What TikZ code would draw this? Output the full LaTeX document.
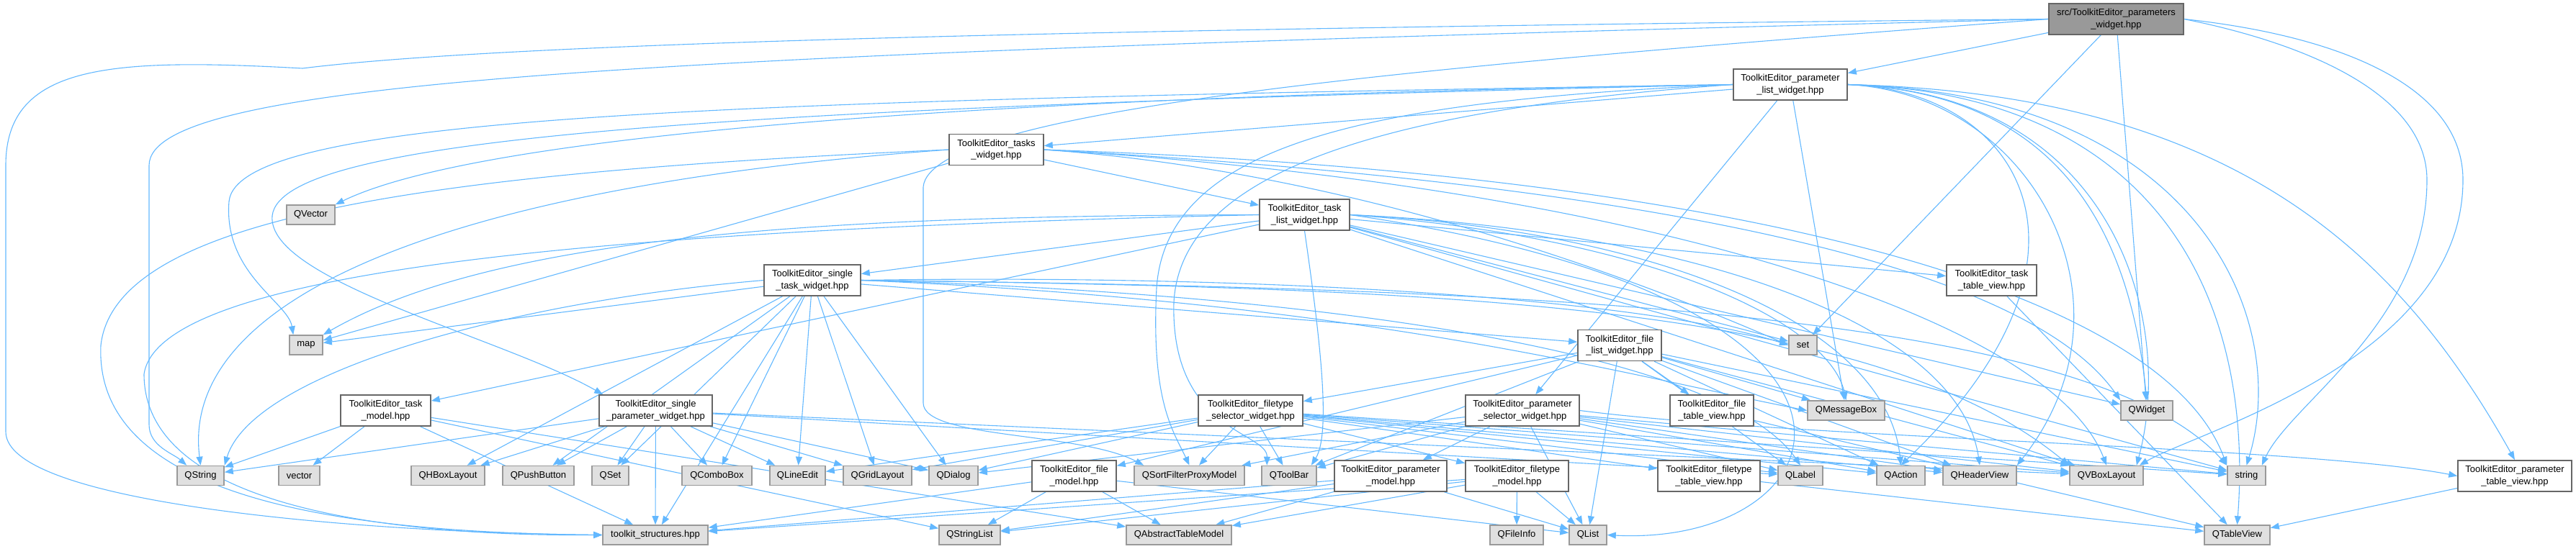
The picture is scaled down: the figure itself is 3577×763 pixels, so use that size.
\documentclass[tikz,border=0pt]{standalone}
\usepackage{fontspec}
\setmainfont{Liberation Sans}
\usetikzlibrary{arrows.meta}
\definecolor{edgec}{HTML}{63B8FF}
\definecolor{wborder}{HTML}{666666}
\definecolor{gborder}{HTML}{999999}
\definecolor{gfill}{HTML}{E0E0E0}
\definecolor{sfill}{HTML}{999999}
\pgfdeclarelayer{edgelayer}
\pgfsetlayers{edgelayer,main}
\tikzset{
  nodebase/.style={line width=1.6pt, align=center, inner sep=0pt, font=\fontsize{13}{16.5}\selectfont},
  wbox/.style={nodebase, draw=wborder, fill=white, minimum height=43pt},
  gbox/.style={nodebase, draw=gborder, fill=gfill, minimum height=27pt},
  sbox/.style={nodebase, draw=wborder, fill=sfill, minimum height=43pt},
  e/.style={draw=edgec, line width=1.1pt, -{Triangle[length=12pt,width=9pt]}},
}
\begin{document}
\begin{tikzpicture}[x=1pt,y=-1pt]
\useasboundingbox (0,0) rectangle (3577,763);
% ---- nodes ----
\node[sbox, minimum width=187pt] (src) at (2938.5,26.5) {src/ToolkitEditor\_parameters\\\_widget.hpp};
\node[wbox, minimum width=158pt] (plw) at (2486,117.5) {ToolkitEditor\_parameter\\\_list\_widget.hpp};
\node[wbox, minimum width=131pt] (tw) at (1383.5,208) {ToolkitEditor\_tasks\\\_widget.hpp};
\node[gbox, minimum width=67pt] (qvec) at (431.5,298.5) {QVector};
\node[wbox, minimum width=125pt] (tlw) at (1811.5,298.5) {ToolkitEditor\_task\\\_list\_widget.hpp};
\node[wbox, minimum width=134pt] (stw) at (1128,389.5) {ToolkitEditor\_single\\\_task\_widget.hpp};
\node[wbox, minimum width=125pt] (ttv) at (2765.5,389.5) {ToolkitEditor\_task\\\_table\_view.hpp};
\node[gbox, minimum width=46pt] (map) at (425,479.5) {map};
\node[gbox, minimum width=39pt] (set) at (2503.5,479.5) {set};
\node[wbox, minimum width=116pt] (flw) at (2249,480) {ToolkitEditor\_file\\\_list\_widget.hpp};
\node[gbox, minimum width=107pt] (qmsg) at (2563.5,570.5) {QMessageBox};
\node[gbox, minimum width=72pt] (qwidget) at (2981,570.5) {QWidget};
\node[wbox, minimum width=125pt] (tm) at (535.5,570.5) {ToolkitEditor\_task\\\_model.hpp};
\node[wbox, minimum width=157pt] (spw) at (910.5,570.5) {ToolkitEditor\_single\\\_parameter\_widget.hpp};
\node[wbox, minimum width=145pt] (fsw) at (1736.5,570.5) {ToolkitEditor\_filetype\\\_selector\_widget.hpp};
\node[wbox, minimum width=158pt] (psw) at (2114,570.5) {ToolkitEditor\_parameter\\\_selector\_widget.hpp};
\node[wbox, minimum width=116pt] (ftv) at (2377,570.5) {ToolkitEditor\_file\\\_table\_view.hpp};
\node[gbox, minimum width=65pt] (qstring) at (278.5,661) {QString};
\node[gbox, minimum width=57pt] (vector) at (415.5,661) {vector};
\node[gbox, minimum width=102pt] (qhbox) at (622,661) {QHBoxLayout};
\node[gbox, minimum width=99pt] (qpush) at (747.5,661) {QPushButton};
\node[gbox, minimum width=51pt] (qset) at (847.5,661) {QSet};
\node[gbox, minimum width=97pt] (qcombo) at (995.5,661) {QComboBox};
\node[gbox, minimum width=77pt] (qline) at (1107.5,661) {QLineEdit};
\node[gbox, minimum width=95pt] (qgrid) at (1218.5,661) {QGridLayout};
\node[gbox, minimum width=68pt] (qdialog) at (1324,661) {QDialog};
\node[wbox, minimum width=117pt] (fm) at (1491.5,661.5) {ToolkitEditor\_file\\\_model.hpp};
\node[gbox, minimum width=153pt] (qsfpm) at (1651.5,661) {QSortFilterProxyModel};
\node[gbox, minimum width=76pt] (qtoolbar) at (1790,661) {QToolBar};
\node[wbox, minimum width=156pt] (pm) at (1931,661.5) {ToolkitEditor\_parameter\\\_model.hpp};
\node[wbox, minimum width=143pt] (ftm) at (2106.5,661.5) {ToolkitEditor\_filetype\\\_model.hpp};
\node[wbox, minimum width=142pt] (fttv) at (2373,661.5) {ToolkitEditor\_filetype\\\_table\_view.hpp};
\node[gbox, minimum width=62pt] (qlabel) at (2500,661) {QLabel};
\node[gbox, minimum width=67pt] (qaction) at (2639.5,661) {QAction};
\node[gbox, minimum width=102pt] (qheader) at (2749,661) {QHeaderView};
\node[gbox, minimum width=102pt] (qvbox) at (2925,661) {QVBoxLayout};
\node[gbox, minimum width=53pt] (string) at (3119.5,661) {string};
\node[wbox, minimum width=158pt] (ptv) at (3492,661.5) {ToolkitEditor\_parameter\\\_table\_view.hpp};
\node[gbox, minimum width=146pt] (ts) at (910,743.5) {toolkit\_structures.hpp};
\node[gbox, minimum width=85pt] (qsl) at (1346.5,743.5) {QStringList};
\node[gbox, minimum width=146pt] (qatm) at (1637,743.5) {QAbstractTableModel};
\node[gbox, minimum width=74pt] (qfi) at (2106,743.5) {QFileInfo};
\node[gbox, minimum width=52pt] (qlist) at (2205,743.5) {QList};
\node[gbox, minimum width=91pt] (qtable) at (3106.5,743.5) {QTableView};
% ---- waypoints ----
\coordinate (a1) at (420,95);
\coordinate (a2) at (8,230);
\coordinate (a3) at (8,600);
\coordinate (b1) at (207,230);
\coordinate (b2) at (207,590);
\coordinate (c1) at (1282,260);
\coordinate (c2) at (1282,560);
\coordinate (d1) at (3370,250);
\coordinate (d2) at (3420,250);
\coordinate (m1) at (318,280);
\coordinate (s1) at (378,300);
\coordinate (g1) at (1606,400);
\coordinate (g2) at (1630,420);
\coordinate (k1) at (140,480);
\coordinate (k2) at (200,520);
\begin{pgfonlayer}{edgelayer}
% src
\draw[e] (src) -- (plw);
\draw[e] (src) -- (set);
\draw[e] (src) -- (qwidget);
\draw[e] (src.west) .. controls (1500,40) and (700,60) .. (a1) .. controls (150,80) and (8,90) .. (a2) -- (a3) .. controls (8,700) and (500,740) .. (ts.west);
\draw[e] (src.west) .. controls (900,75) and (207,110) .. (b1) -- (b2) .. controls (207,620) and (240,630) .. ([xshift=14pt]qstring.north west);
\draw[e] (src.west) .. controls (2000,90) and (1290,150) .. (c1) -- (c2) .. controls (1282,610) and (1500,600) .. ([xshift=14pt]qsfpm.north west);
\draw[e] (src.east) .. controls (3200,60) and (3370,130) .. (d1) .. controls (3370,450) and (3180,560) .. ([xshift=-6pt]string.north east);
\draw[e] (src.east) .. controls (3250,50) and (3420,120) .. (d2) .. controls (3420,500) and (3050,600) .. ([xshift=-6pt]qvbox.north east);
% parameter list widget
\draw[e] (plw) -- (tw);
\draw[e] (plw.west) .. controls (1600,130) and (700,170) .. (qvec.north east);
\draw[e] (plw) -- (psw);
\draw[e] (plw) -- (qmsg);
\draw[e] (plw.east) .. controls (2800,125) and (2950,350) .. (qaction.north);
\draw[e] (plw.east) .. controls (2820,130) and (2980,420) .. (qheader.north east);
\draw[e] (plw.east) .. controls (2880,130) and (2960,350) .. (qwidget.north);
\draw[e] (plw.east) .. controls (2940,130) and (3020,450) .. ([xshift=-10pt]qvbox.north east);
\draw[e] (plw.east) .. controls (3000,130) and (3130,420) .. (qtable.north);
\draw[e] (plw.east) .. controls (3060,130) and (3180,450) .. (string.north);
\draw[e] (plw.east) .. controls (3100,130) and (3330,350) .. (ptv.north);
\draw[e] (plw.west) .. controls (1000,140) and (330,160) .. (m1) .. controls (310,380) and (400,420) .. ([xshift=6pt]map.north west);
\draw[e] (plw.west) .. controls (1000,150) and (390,190) .. (s1) .. controls (370,390) and (700,470) .. ([xshift=6pt]spw.north west);
\draw[e] (plw.west) .. controls (1900,140) and (1620,200) .. (g1) .. controls (1598,560) and (1630,600) .. (qsfpm.north);
\draw[e] (plw.west) .. controls (1950,150) and (1640,230) .. (g2) .. controls (1625,600) and (1760,600) .. ([xshift=8pt]qtoolbar.north west);
% tasks widget
\draw[e] (tw) -- (tlw);
\draw[e] (tw) -- (map);
\draw[e] (tw.east) .. controls (1900,240) and (2300,400) .. (set.west);
\draw[e] (tw.east) .. controls (2200,250) and (2800,350) .. (qwidget.north west);
\draw[e] (tw.east) .. controls (2300,260) and (2850,450) .. (qvbox.north);
\draw[e] (tw.east) .. controls (2400,240) and (3000,400) .. (string.north west);
\draw[e] (tw.west) .. controls (600,240) and (160,300) .. (k1) .. controls (130,700) and (500,740) .. (ts.west);
\draw[e] (tw.west) .. controls (600,260) and (250,420) .. (qstring.north);
% task list widget
\draw[e] (tlw) -- (stw);
\draw[e] (tlw) -- (ttv);
\draw[e] (tlw) -- (tm);
\draw[e] (tlw) -- (set);
\draw[e] (tlw) -- (qwidget);
\draw[e] (tlw) -- (qvbox);
\draw[e] (tlw.east) .. controls (2300,320) and (2620,450) .. (qaction.north);
\draw[e] (tlw.east) .. controls (2350,320) and (2720,450) .. (qheader.north);
\draw[e] (tlw.east) .. controls (2300,330) and (2540,450) .. (qmsg.north);
\draw[e] (tlw.south) .. controls (1830,450) and (1850,600) .. ([xshift=-8pt]qtoolbar.north east);
\draw[e] (tlw) -- (string);
\draw[e] (tlw.east) .. controls (2700,420) and (2560,760) .. (qlist.east);
\draw[e] (tlw.west) .. controls (1200,300) and (700,320) .. (map.north east);
\draw[e] (tlw.west) .. controls (800,320) and (220,380) .. (k2) .. controls (200,720) and (600,745) .. (ts.west);
% single task widget
\draw[e] (stw) -- (flw);
\draw[e] (stw) -- (map);
\draw[e] (stw.west) .. controls (700,420) and (350,520) .. (qstring.north east);
\draw[e] (stw) -- (ts);
\draw[e] (stw) -- (qhbox);
\draw[e] (stw) -- (qpush);
\draw[e] (stw) -- (qset);
\draw[e] (stw) -- (qcombo);
\draw[e] (stw) -- (qline);
\draw[e] (stw) -- (qgrid);
\draw[e] (stw) -- (qdialog);
\draw[e] (stw.east) .. controls (1800,380) and (2300,420) .. (set.west);
\draw[e] (stw.east) .. controls (1900,420) and (2250,520) .. (qmsg.west);
\draw[e] (stw.east) .. controls (1900,410) and (2400,500) .. (qlabel.north);
\draw[e] (stw.east) .. controls (2000,400) and (2600,420) .. (qvbox.north west);
\draw[e] (stw.east) .. controls (2100,400) and (2900,430) .. (string.north west);
% task model
\draw[e] (tm) -- (qstring);
\draw[e] (tm) -- (vector);
\draw[e] (tm) -- (ts);
\draw[e] (tm) -- (qatm);
\draw[e] (tm) -- (qsl);
% single parameter widget
\draw[e] (spw) -- (qstring);
\draw[e] (spw) -- (qhbox);
\draw[e] (spw) -- (qpush);
\draw[e] (spw) -- (qset);
\draw[e] (spw) -- (ts);
\draw[e] (spw) -- (qcombo);
\draw[e] (spw) -- (qline);
\draw[e] (spw) -- (qgrid);
\draw[e] (spw) -- (qdialog);
\draw[e] (spw) -- (qlabel);
\draw[e] (spw) -- (qvbox);
% file list widget
\draw[e] (flw) -- (fsw);
\draw[e] (flw) -- (fm);
\draw[e] (flw) -- (ftv);
\draw[e] (flw) -- (qmsg);
\draw[e] (flw) -- (qlabel);
\draw[e] (flw) -- (qaction);
\draw[e] (flw) -- (qheader);
\draw[e] (flw) -- (qvbox);
\draw[e] (flw) -- (qtoolbar);
\draw[e] (flw) -- (string);
\draw[e] (flw) -- (qlist);
% filetype selector widget
\draw[e] (fsw) -- (qdialog);
\draw[e] (fsw) -- (qgrid);
\draw[e] (fsw) -- (qline);
\draw[e] (fsw) -- (qsfpm);
\draw[e] (fsw) -- (qtoolbar);
\draw[e] (fsw) -- (ftm);
\draw[e] (fsw) -- (fttv);
\draw[e] (fsw) -- (qlabel);
\draw[e] (fsw) -- (qvbox);
\draw[e] (fsw) -- (qaction);
\draw[e] (fsw) -- (qheader);
\draw[e] (fsw) -- (string);
% parameter selector widget
\draw[e] (psw) -- (pm);
\draw[e] (psw) -- (qtoolbar);
\draw[e] (psw) -- (qsfpm);
\draw[e] (psw) -- (qdialog);
\draw[e] (psw) -- (qlabel);
\draw[e] (psw) -- (qaction);
\draw[e] (psw) -- (qheader);
\draw[e] (psw) -- (qvbox);
\draw[e] (psw) -- (string);
\draw[e] (psw.east) .. controls (2500,610) and (3200,620) .. (ptv.west);
\draw[e] (psw) -- (qlist);
% views
\draw[e] (ftv) -- (qtable);
\draw[e] (fttv) -- (qtable);
\draw[e] (ptv) -- (qtable);
\draw[e] (ttv) -- (qtable);
% models
\draw[e] (fm) -- (qsl);
\draw[e] (fm) -- (qatm);
\draw[e] (fm) -- (ts);
\draw[e] (fm) -- (qlist);
\draw[e] (pm) -- (qatm);
\draw[e] (pm) -- (qsl);
\draw[e] (pm) -- (ts);
\draw[e] (pm) -- (qlist);
\draw[e] (ftm) -- (qfi);
\draw[e] (ftm) -- (qlist);
\draw[e] (ftm) -- (qatm);
\draw[e] (ftm) -- (qsl);
\draw[e] (ftm) -- (ts);
\end{pgfonlayer}
\end{tikzpicture}
\end{document}
